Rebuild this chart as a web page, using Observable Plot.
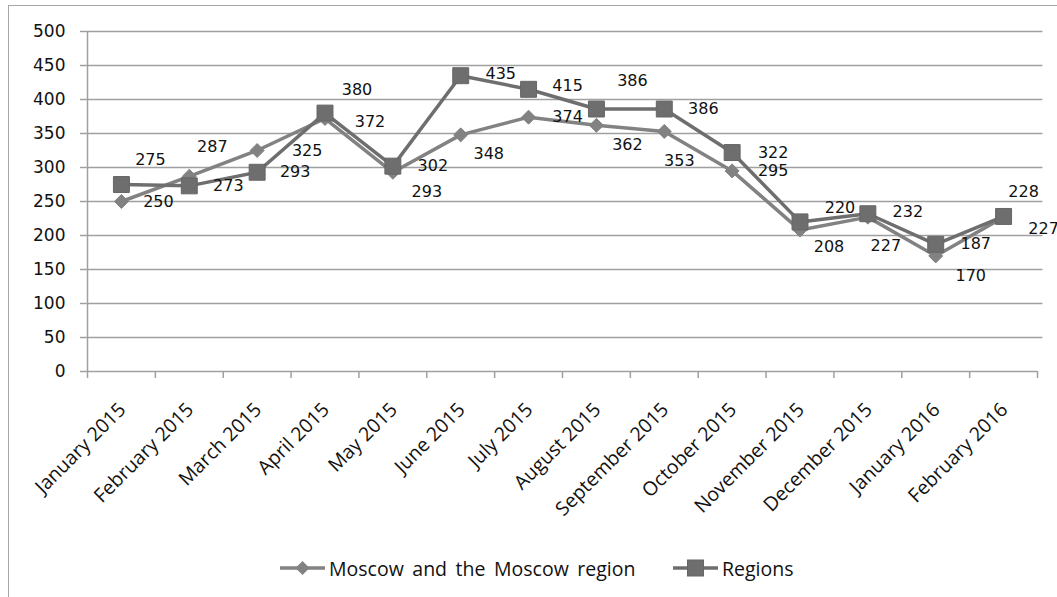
<!DOCTYPE html>
<html>
<head>
<meta charset="utf-8">
<script src="https://cdn.jsdelivr.net/npm/d3@7"></script>
<script src="https://cdn.jsdelivr.net/npm/@observablehq/plot@0.6"></script>
<style>
  html, body { margin: 0; padding: 0; background: #fff; overflow: hidden; }
  #page { position: relative; width: 1057px; height: 597px; }
  #frame { position: absolute; left: 8px; top: 5px; width: 1100px; height: 700px; border: 1px solid #a6a6a6; box-sizing: border-box; }
  #chart { position: absolute; left: 0; top: 0; }
  .legend-item { position: absolute; top: 556px; height: 24px; display: flex; align-items: center; }
  .legend-item span { font-family: "Open Sans", sans-serif; font-size: 19.5px; color: #111; word-spacing: 3.5px; }
</style>
</head>
<body>
<div id="page">
  <div id="frame"></div>
  <div id="chart"></div>
  <div id="legend"></div>
</div>
<script>
// Months on the category axis
const months = [
  "January 2015", "February 2015", "March 2015", "April 2015", "May 2015",
  "June 2015", "July 2015", "August 2015", "September 2015", "October 2015",
  "November 2015", "December 2015", "January 2016", "February 2016"
];

// Series values
const moscow  = [250, 287, 325, 372, 293, 348, 374, 362, 353, 295, 208, 227, 170, 227];
const regions = [275, 273, 293, 380, 302, 435, 415, 386, 386, 322, 220, 232, 187, 228];

// Value axis ticks
const yTicks = [0, 50, 100, 150, 200, 250, 300, 350, 400, 450, 500];

// Series names
const seriesNames = ["Moscow and the Moscow region", "Regions"];

// Data-label nudges (pixels from the marker), kept apart from the values
const moscowLabelNudge = [
  [37, 0], [23, -29], [50, 0], [45, 3], [34, 20], [28, 19], [39, 0],
  [31, 20], [15, 29], [41, 0], [29, 17], [18, 29], [35, 20], [40, 12]
];
const regionsLabelNudge = [
  [29, -25], [39, 0], [38, 0], [32, -23], [40, 0], [40, -2], [39, -3],
  [36, -28], [39, 0], [41, 0], [40, -14], [40, -2], [40, 0], [20, -25]
];

const colors = { moscow: "#828282", regions: "#6e6e6e" };
const gridColor = "#a0a0a0";

const rows = (values, series) => values.map((v, i) => ({ i, month: months[i], value: v, series }));
const moscowRows = rows(moscow, seriesNames[0]);
const regionsRows = rows(regions, seriesNames[1]);

const boundaries = d3.range(months.length + 1).map(i => i - 0.5);

const labelMarks = (data, nudges) => data.map((d, k) =>
  Plot.text([d], {
    x: "i", y: "value", text: d => String(d.value),
    dx: nudges[k][0], dy: nudges[k][1],
    lineAnchor: "middle", textAnchor: "middle",
    fontSize: 16, fontFamily: "DejaVu Sans", fill: "#111"
  })
);

const chart = Plot.plot({
  width: 1057,
  height: 530,
  marginLeft: 87,
  marginRight: 20,
  marginTop: 31,
  marginBottom: 159,
  x: { type: "linear", domain: [-0.5, months.length - 0.5], axis: null },
  y: { domain: [0, 500], axis: null },
  style: { background: "transparent", overflow: "visible" },
  marks: [
    // horizontal gridlines
    Plot.ruleY(yTicks.filter(v => v > 0), { x1: -0.5, x2: months.length - 0.42, stroke: gridColor, strokeWidth: 1.5 }),
    // axis lines
    Plot.ruleY([0], { x1: -0.5, x2: months.length - 0.5, stroke: gridColor, strokeWidth: 1.5 }),
    Plot.ruleX([-0.5], { stroke: gridColor, strokeWidth: 1.5 }),
    // value axis
    Plot.axisY({
      ticks: yTicks, tickSize: 7, tickPadding: 15, label: null, tickFormat: d => String(d),
      stroke: gridColor, strokeWidth: 1.5, strokeOpacity: 1,
      fontSize: 17, fontFamily: "DejaVu Sans", fill: "#111"
    }),
    // category tick marks between months
    Plot.axisX({
      ticks: boundaries, tickSize: 7, tickFormat: () => "", label: null,
      stroke: gridColor, strokeWidth: 1.5, strokeOpacity: 1
    }),
    // rotated month labels
    Plot.text(months, {
      x: (d, i) => i, y: () => 0, text: d => d,
      rotate: -45, textAnchor: "end", lineAnchor: "middle",
      dx: 1, dy: 35, fontSize: 19.5, fontFamily: "Open Sans", fill: "#111"
    }),
    // Moscow series
    Plot.line(moscowRows, { x: "i", y: "value", stroke: colors.moscow, strokeWidth: 3.5 }),
    Plot.dot(moscowRows, { x: "i", y: "value", symbol: "diamond2", r: 6.3, fill: colors.moscow, stroke: colors.moscow, strokeWidth: 1 }),
    // Regions series
    Plot.line(regionsRows, { x: "i", y: "value", stroke: colors.regions, strokeWidth: 3.5 }),
    Plot.dot(regionsRows, { x: "i", y: "value", symbol: "square", r: 9, fill: colors.regions, stroke: "#666", strokeWidth: 1 }),
    // value labels
    ...labelMarks(moscowRows, moscowLabelNudge),
    ...labelMarks(regionsRows, regionsLabelNudge)
  ]
});
document.getElementById("chart").appendChild(chart);

// Legend below the plot
function swatch(color, shape) {
  const w = 45, h = 24, c = w / 2;
  let marker;
  if (shape === "diamond") {
    marker = `<polygon points="${c},${h/2-7} ${c+7},${h/2} ${c},${h/2+7} ${c-7},${h/2}" fill="${color}"/>`;
  } else {
    marker = `<rect x="${c-8}" y="${h/2-8}" width="16" height="16" fill="${color}" stroke="#666"/>`;
  }
  return `<svg width="${w}" height="${h}"><line x1="0" x2="${w}" y1="${h/2}" y2="${h/2}" stroke="${color}" stroke-width="3.5"/>${marker}</svg>`;
}
const legend = document.getElementById("legend");
const items = [
  { name: seriesNames[0], color: colors.moscow, shape: "diamond", left: 280 },
  { name: seriesNames[1], color: colors.regions, shape: "square", left: 673 }
];
items.forEach(it => {
  const div = document.createElement("div");
  div.className = "legend-item";
  div.style.left = it.left + "px";
  div.innerHTML = swatch(it.color, it.shape) + `<span style="margin-left:4px">${it.name}</span>`;
  legend.appendChild(div);
});
</script>
</body>
</html>
